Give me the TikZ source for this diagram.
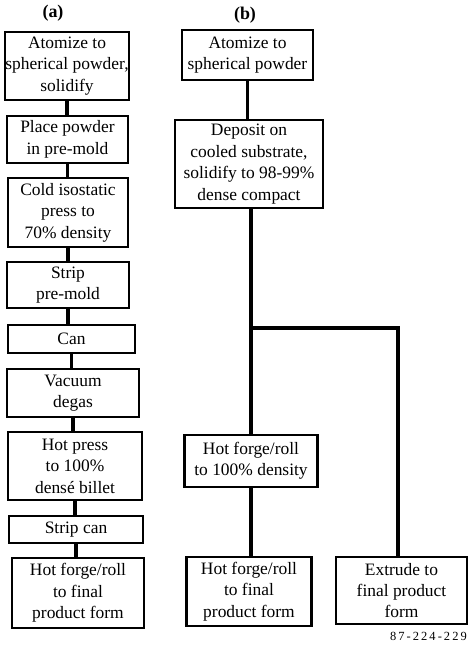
\documentclass[tikz,border=0pt]{standalone}
\usepackage{fontspec}
\setmainfont{Liberation Serif}
\begin{document}
\begin{tikzpicture}[x=1bp,y=-1bp,
  box/.style={draw=black, line width=2.2bp, fill=white, inner sep=0pt, align=center,
    font=\fontsize{17.5}{21.5}\selectfont},
  conn/.style={draw=black, line width=3.6bp},
  lbl/.style={font=\bfseries\fontsize{18}{20}\selectfont, inner sep=0pt}]
\useasboundingbox (0,0) rectangle (468,647);
% column (a)
\node[lbl] (la) at (53,13) {(a)};
\node[box, minimum width=124bp, minimum height=68bp] (a1) at (67,66) {Atomize to\\spherical powder,\\solidify};
\node[box, minimum width=121bp, minimum height=47bp] (a2) at (67.5,139.5) {Place powder\\in pre-mold};
\node[box, minimum width=120bp, minimum height=69bp] (a3) at (68,212.5) {Cold isostatic\\press to\\70\% density};
\node[box, minimum width=122bp, minimum height=46bp] (a4) at (68,285) {Strip\\pre-mold};
\node[box, minimum width=127bp, minimum height=28bp] (a5) at (71.5,339) {Can};
\node[box, minimum width=132bp, minimum height=48bp] (a6) at (73,393) {Vacuum\\degas};
\node[box, minimum width=134bp, minimum height=68bp] (a7) at (75,466) {Hot press\\to 100\%\\dens\'e billet};
\node[box, minimum width=134bp, minimum height=27bp] (a8) at (76,529.5) {Strip can};
\node[box, minimum width=132bp, minimum height=70bp] (a9) at (78,593) {Hot forge/roll\\to final\\product form};
\draw[conn] (a1.south) -- (a1.south |- a2.north);
\draw[conn] (a2.south) -- (a2.south |- a3.north);
\draw[conn] (a3.south) -- (a3.south |- a4.north);
\draw[conn] (a4.south) -- (a4.south |- a5.north);
\draw[conn] (a5.south) -- (a5.south |- a6.north);
\draw[conn] (a6.south) -- (a6.south |- a7.north);
\draw[conn] (a7.south) -- (a7.south |- a8.north);
\draw[conn] (a8.south) -- (a8.south |- a9.north);
% column (b)
\node[lbl] (lb) at (245,15) {(b)};
\node[box, minimum width=131bp, minimum height=50bp] (b1) at (247.5,55) {Atomize to\\spherical powder};
\node[box, minimum width=148bp, minimum height=88bp] (b2) at (249,164) {Deposit on\\cooled substrate,\\solidify to 98-99\%\\dense compact};
\node[box, minimum width=133bp, minimum height=52bp] (b3) at (251,461) {Hot forge/roll\\to 100\% density};
\node[box, minimum width=125bp, minimum height=69bp] (b4) at (249,591.5) {Hot forge/roll\\to final\\product form};
\node[box, minimum width=131bp, minimum height=67bp] (b5) at (401.5,590.5) {Extrude to\\final product\\form};
\coordinate (j) at (251,328);
\coordinate (k) at (398,328);
\draw[conn] (b1.south) -- (b1.south |- b2.north);
\draw[conn] (b2.south -| j) -- (j) -- (j |- b3.north);
\draw[conn] (b3.south) -- (b3.south |- b4.north);
\draw[conn, line join=miter] (j) -- (k) -- (k |- b5.north);
\node[font=\fontsize{12.5}{14}\selectfont, anchor=east, inner sep=0pt] (id) at (467,636) {8\,7\,-\,2\,2\,4\,-\,2\,2\,9};
\end{tikzpicture}
\end{document}
